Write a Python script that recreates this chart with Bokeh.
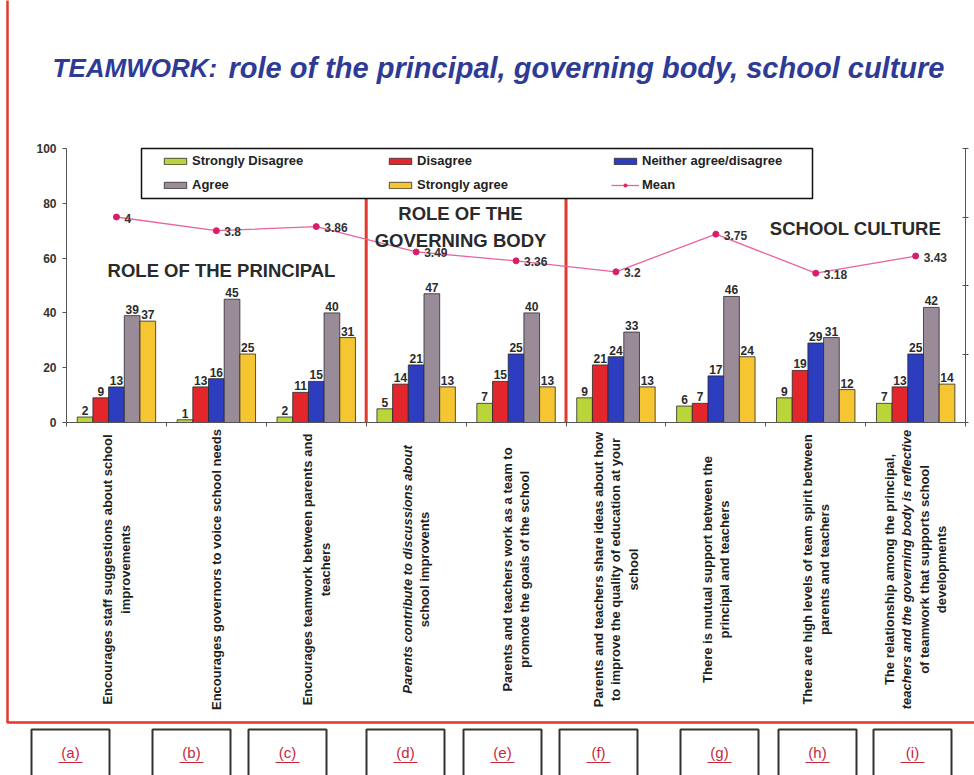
import numpy as np
from bokeh.plotting import figure
from bokeh.models import (Range1d, LinearAxis, FixedTicker, ColumnDataSource, Legend,
                          LegendItem, BoxAnnotation)
from bokeh.core.properties import value
from bokeh.embed import file_html
from bokeh.resources import INLINE

# ---------------- data ----------------
item_codes = ["(a)", "(b)", "(c)", "(d)", "(e)", "(f)", "(g)", "(h)", "(i)"]
item_labels = [
    ["Encourages staff suggestions about school", "improvements"],
    ["Encourages governors to voice school needs"],
    ["Encourages teamwork between parents and", "teachers"],
    ["Parents contribute to discussions about", "school improvents"],
    ["Parents and teachers work as a team to", "promote the goals of the school"],
    ["Parents and teachers share ideas about how", "to improve the quality of education at your", "school"],
    ["There is mutual support between the", "principal and teachers"],
    ["There are high levels of team spirit between", "parents and teachers"],
    ["The relationship among the principal,", "teachers and the governing body is reflective",
     "of teamwork that supports school", "developments"],
]
italic_lines = [(3, 0), (8, 1)]
series_names = ["Strongly Disagree", "Disagree", "Neither agree/disagree", "Agree", "Strongly agree"]
strongly_disagree = [2, 1, 2, 5, 7, 9, 6, 9, 7]
disagree = [9, 13, 11, 14, 15, 21, 7, 19, 13]
neither = [13, 16, 15, 21, 25, 24, 17, 29, 25]
agree = [39, 45, 40, 47, 40, 33, 46, 31, 42]
strongly_agree = [37, 25, 31, 13, 13, 13, 24, 12, 14]
mean = [4, 3.8, 3.86, 3.49, 3.36, 3.2, 3.75, 3.18, 3.43]
pct_ticks = [0, 20, 40, 60, 80, 100]
mean_ticks = [1, 2, 3, 4, 5]
section_breaks = [3, 5]
section_titles = ["ROLE OF THE PRINCIPAL", "ROLE OF THE", "GOVERNING BODY", "SCHOOL CULTURE"]
title_main = "TEAMWORK:"
title_rest = "role of the principal, governing body, school culture"

# ---------------- geometry / styles ----------------
FONT = "Liberation Sans"
RED = "#e2392c"
W, H = 974, 775
PX_CAT = 99.9     # pixels per item
PX_UNIT = 2.74    # pixels per percentage point
X0_PX = 66        # pixel column of the value axis
Y0_PX = 422       # pixel row of value 0


def dx(px):
    return (px - X0_PX) / PX_CAT


def dy(py):
    return (Y0_PX - py) / PX_UNIT


n_items = len(item_codes)
x_range = Range1d(dx(0), dx(W))
y_range = Range1d(dy(H), dy(0))

p = figure(width=W, height=H, x_range=x_range, y_range=y_range,
           output_backend="svg", toolbar_location=None,
           x_axis_location=None, y_axis_location=None, min_border=0)
p.outline_line_color = None
p.grid.visible = False
p.background_fill_color = "white"
p.border_fill_color = "white"

# mean scale: 1..5 spans the 0..100 height of the value axis
p.extra_y_ranges = {"mean": Range1d(1 + y_range.start * 0.04, 1 + y_range.end * 0.04)}

yax = LinearAxis(fixed_location=0, ticker=FixedTicker(ticks=pct_ticks), bounds=(0, 100),
                 axis_line_color="#555555", major_tick_line_color="#555555",
                 major_tick_out=4, major_tick_in=0, minor_tick_line_color=None,
                 major_label_text_font=FONT, major_label_text_font_style="bold",
                 major_label_text_font_size="12px", major_label_text_color="#333333",
                 major_label_standoff=6)
p.add_layout(yax, "left")

rax = LinearAxis(fixed_location=n_items, y_range_name="mean",
                 ticker=FixedTicker(ticks=[], minor_ticks=mean_ticks), bounds=(1, 5),
                 axis_line_color="#555555", major_tick_line_color=None,
                 minor_tick_line_color="#555555", minor_tick_out=3, minor_tick_in=3)
p.add_layout(rax, "right")

xax = LinearAxis(fixed_location=0,
                 ticker=FixedTicker(ticks=[], minor_ticks=list(range(n_items + 1))),
                 bounds=(0, n_items), axis_line_color="#555555", major_tick_line_color=None,
                 minor_tick_line_color="#555555", minor_tick_out=4, minor_tick_in=0)
p.add_layout(xax, "below")

# red page frame
p.add_layout(BoxAnnotation(left=dx(7), right=dx(1000), top=dy(-20), bottom=dy(722),
                           fill_alpha=0, line_color=RED, line_alpha=1, line_width=2.5))

# section dividers
p.segment(x0=section_breaks, y0=0, x1=section_breaks, y1=dy(197), line_color=RED, line_width=3)

# bars
xc = np.arange(n_items) + 0.5
step = 0.157
series = [strongly_disagree, disagree, neither, agree, strongly_agree]
colors = ["#b9d53a", "#e3262b", "#2c3dbf", "#9a8b98", "#f6c532"]
bar_renderers = []
for k, (vals, col) in enumerate(zip(series, colors)):
    src = ColumnDataSource(dict(x=xc + (k - 2) * step, top=vals, lab=[str(v) for v in vals]))
    r = p.vbar(x="x", top="top", bottom=0, width=step, source=src,
               fill_color=col, line_color="#2a2a2a", line_width=0.8)
    bar_renderers.append(r)
    p.text(x="x", y="top", text="lab", source=src, text_align="center",
           text_baseline="bottom", y_offset=-2, text_font=value(FONT),
           text_font_style="bold", text_font_size="12px", text_color="#2b2b2b")

# mean line
msrc = ColumnDataSource(dict(x=xc, y=mean, lab=[f"{v:g}" for v in mean]))
ml = p.line("x", "y", source=msrc, y_range_name="mean", line_color="#e8639f", line_width=1.3)
ms = p.scatter("x", "y", source=msrc, y_range_name="mean", size=6,
               fill_color="#d81e6a", line_color="#d81e6a")
p.text("x", "y", text="lab", source=msrc, y_range_name="mean", x_offset=8, y_offset=1,
       text_align="left", text_baseline="middle", text_font=value(FONT),
       text_font_style="bold", text_font_size="12px", text_color="#333333")

# section headings
sec_src = ColumnDataSource(dict(
    x=[dx(221), dx(460), dx(460), dx(855)],
    y=[dy(270), dy(213), dy(240), dy(228)],
    t=section_titles))
p.text("x", "y", text="t", source=sec_src, text_align="center", text_baseline="middle",
       text_font=value(FONT), text_font_style="bold", text_font_size="18.5px",
       text_color="#2a2a2a")

# item labels (rotated, multi-line, centred)
lx, loff, ltxt, lsty = [], [], [], []
for i, lines in enumerate(item_labels):
    n = len(lines)
    for k, line in enumerate(lines):
        lx.append(xc[i])
        loff.append((k - (n - 1) / 2) * 17.5)
        ltxt.append(line)
        lsty.append("bold italic" if (i, k) in italic_lines else "bold")
lab_src = ColumnDataSource(dict(x=lx, y=[dy(569)] * len(lx), xo=loff, t=ltxt, s=lsty))
p.text("x", "y", text="t", source=lab_src, x_offset="xo", angle=np.pi / 2,
       text_align="center", text_baseline="middle", text_font=value(FONT),
       text_font_style="s", text_font_size="13px", text_color="#1e1e1e")

# legend frame + legend
p.add_layout(BoxAnnotation(left=dx(141), right=dx(812), top=dy(148), bottom=dy(198),
                           fill_color="white", fill_alpha=1, line_color="#111111",
                           line_alpha=1, line_width=1.5))
items = [LegendItem(label=n, renderers=[r]) for n, r in zip(series_names, bar_renderers)]
items.append(LegendItem(label="Mean", renderers=[ml, ms]))
legend = Legend(items=items, orientation="horizontal", ncols=3, location=(161, 583),
                glyph_width=28, glyph_height=8, label_standoff=3, label_width=185,
                label_height=14, spacing=9, padding=0, margin=0,
                border_line_alpha=0, background_fill_alpha=0,
                label_text_font=FONT, label_text_font_style="bold",
                label_text_font_size="13px", label_text_color="#222222")
p.add_layout(legend)

# bottom boxes with item codes
box_left_px = [31, 152, 248, 366, 463, 559, 680, 778, 873]
for bl in box_left_px:
    p.add_layout(BoxAnnotation(left=dx(bl), right=dx(bl + 78), top=dy(729), bottom=dy(800),
                               fill_alpha=0, line_color="#333333", line_alpha=1, line_width=2))
code_x = [dx(bl + 39) for bl in box_left_px]
code_src = ColumnDataSource(dict(x=code_x, y=[dy(752)] * len(code_x), t=item_codes))
p.text("x", "y", text="t", source=code_src, text_align="center", text_baseline="middle",
       text_font=value(FONT), text_font_size="15px", text_color="#c8283c")
p.segment(x0=[dx(bl + 27) for bl in box_left_px], y0=dy(762),
          x1=[dx(bl + 51) for bl in box_left_px], y1=dy(762), line_color="#c8283c", line_width=1)

# title
tsrc = ColumnDataSource(dict(x=[dx(52), dx(228)], y=[dy(67), dy(67)],
                             t=[title_main, title_rest], fs=["26px", "29px"]))
p.text("x", "y", text="t", source=tsrc, text_font=value(FONT), text_font_style="bold italic",
       text_font_size="fs", text_color="#2e3b96", text_align="left", text_baseline="middle")

open("out.html", "w").write(file_html(p, INLINE))
